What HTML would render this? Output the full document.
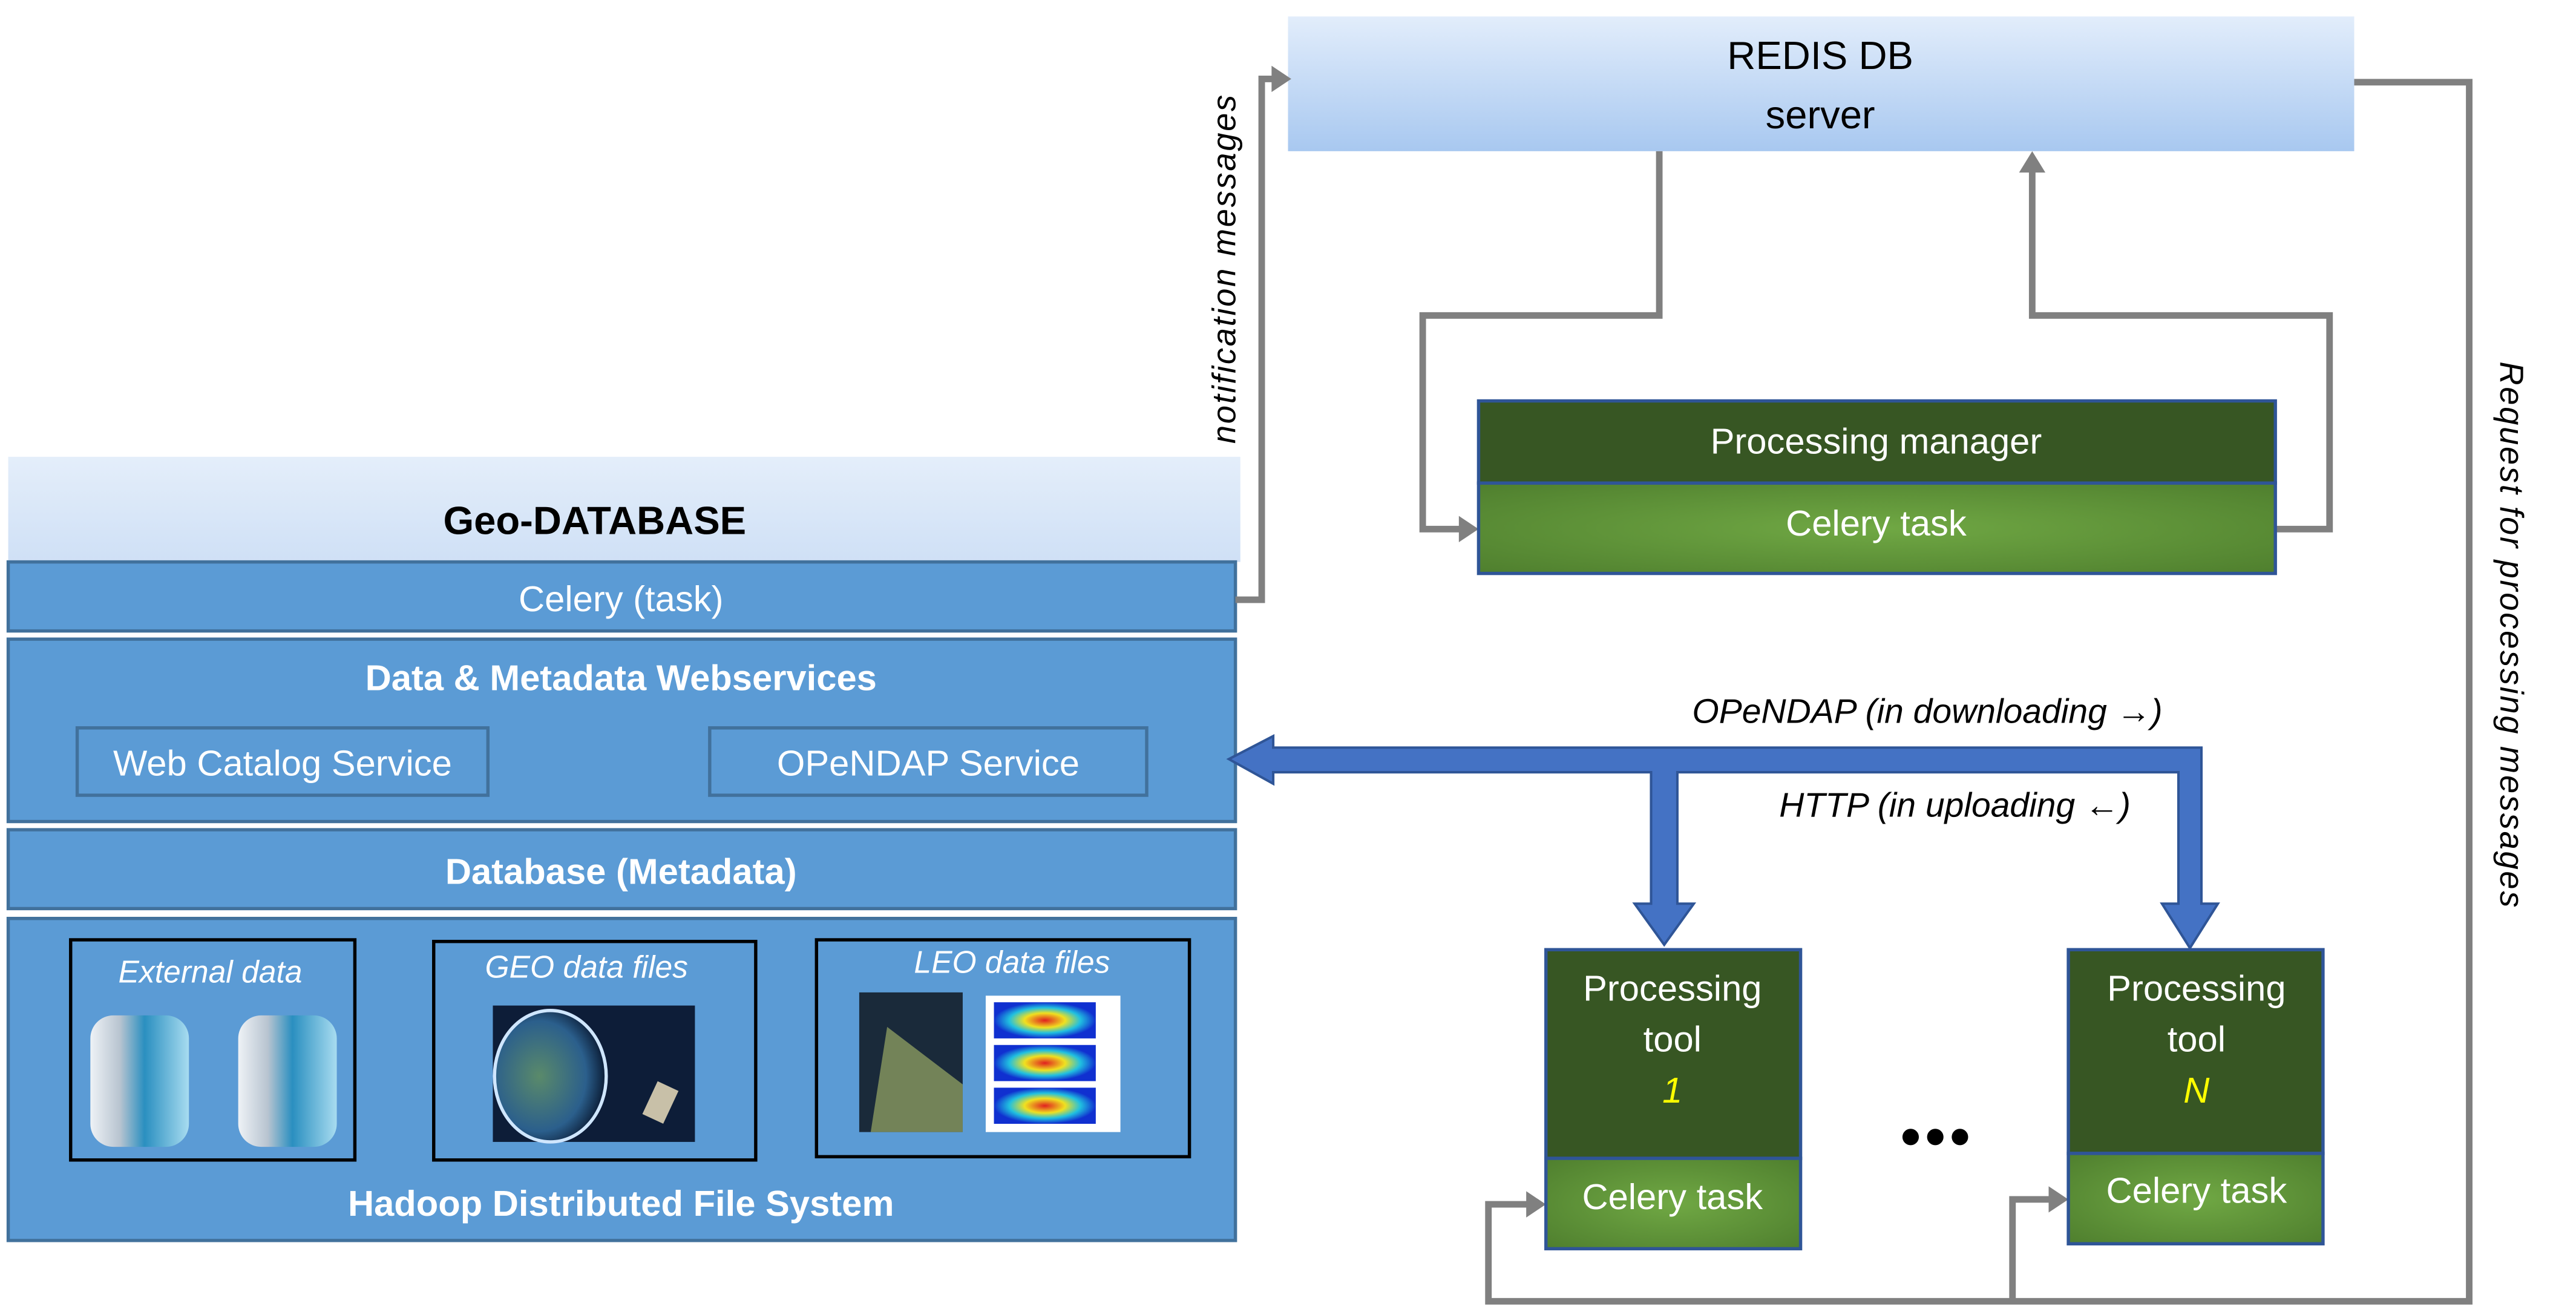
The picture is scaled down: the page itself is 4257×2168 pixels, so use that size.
<!DOCTYPE html>
<html><head><meta charset="utf-8"><style>
html,body{margin:0;padding:0;background:#fff;}
svg{display:block;}
text{font-family:"Liberation Sans Narrow","Liberation Sans",sans-serif;}
</style></head><body>
<svg width="4257" height="2168" viewBox="0 0 1568 798.5" xmlns="http://www.w3.org/2000/svg">
<defs>
<linearGradient id="redis" x1="0" y1="0" x2="0" y2="1"><stop offset="0" stop-color="#e2edfb"/><stop offset="1" stop-color="#a8c8f0"/></linearGradient>
<linearGradient id="geo" x1="0" y1="0" x2="0" y2="1"><stop offset="0" stop-color="#e4eefa"/><stop offset="1" stop-color="#cfe0f6"/></linearGradient>
<radialGradient id="grn" cx="0.5" cy="0.5" r="0.7"><stop offset="0" stop-color="#70a844"/><stop offset="1" stop-color="#4f7f2e"/></radialGradient>
<linearGradient id="cyl" x1="0" y1="0" x2="1" y2="0"><stop offset="0" stop-color="#eef2f6"/><stop offset="0.3" stop-color="#b8c4d0"/><stop offset="0.55" stop-color="#2a8fc0"/><stop offset="1" stop-color="#a8dcf0"/></linearGradient>
<radialGradient id="earth" cx="0.4" cy="0.5" r="0.6"><stop offset="0" stop-color="#5a8a6a"/><stop offset="0.7" stop-color="#2b5f8c"/><stop offset="1" stop-color="#0a1a33"/></radialGradient>
<radialGradient id="heat" cx="0.5" cy="0.5" r="0.5"><stop offset="0" stop-color="#e02020"/><stop offset="0.4" stop-color="#f0e020"/><stop offset="0.7" stop-color="#20c0e0"/><stop offset="1" stop-color="#1030d0"/></radialGradient>
</defs>

<rect x="5" y="278" width="750" height="64" fill="url(#geo)"/>
<text x="362" y="325" font-size="24" font-weight="bold" text-anchor="middle" fill="#000">Geo-DATABASE</text>
<rect x="5" y="342" width="747" height="42" fill="#5b9bd5" stroke="#41719c" stroke-width="2"/>
<text x="378" y="372" font-size="22" text-anchor="middle" fill="#fff">Celery (task)</text>
<rect x="5" y="389" width="747" height="111" fill="#5b9bd5" stroke="#41719c" stroke-width="2"/>
<text x="378" y="420" font-size="22" font-weight="bold" text-anchor="middle" fill="#fff">Data &amp; Metadata Webservices</text>
<rect x="47" y="443" width="250" height="41" fill="#5b9bd5" stroke="#41719c" stroke-width="2"/>
<text x="172" y="472" font-size="22" text-anchor="middle" fill="#fff">Web Catalog Service</text>
<rect x="432" y="443" width="266" height="41" fill="#5b9bd5" stroke="#41719c" stroke-width="2"/>
<text x="565" y="472" font-size="22" text-anchor="middle" fill="#fff">OPeNDAP Service</text>
<rect x="5" y="505" width="747" height="48" fill="#5b9bd5" stroke="#41719c" stroke-width="2"/>
<text x="378" y="538" font-size="22" font-weight="bold" text-anchor="middle" fill="#fff">Database (Metadata)</text>
<rect x="5" y="559" width="747" height="196" fill="#5b9bd5" stroke="#41719c" stroke-width="2"/>
<rect x="43" y="572" width="173" height="134" fill="none" stroke="#000" stroke-width="2"/>
<text x="128" y="598" font-size="19" font-style="italic" text-anchor="middle" fill="#fff">External data</text>
<rect x="55" y="618" width="60" height="80" rx="14" fill="url(#cyl)"/>
<rect x="145" y="618" width="60" height="80" rx="14" fill="url(#cyl)"/>
<rect x="264" y="573" width="196" height="133" fill="none" stroke="#000" stroke-width="2"/>
<text x="357" y="595" font-size="19" font-style="italic" text-anchor="middle" fill="#fff">GEO data files</text>
<rect x="300" y="612" width="123" height="83" fill="#0d1d38"/>
<ellipse cx="335" cy="655" rx="34" ry="40" fill="url(#earth)" stroke="#cfe6ff" stroke-width="2"/>
<rect x="395" y="660" width="14" height="22" fill="#c8c0a8" transform="rotate(25 402 671)"/>
<rect x="497" y="572" width="227" height="132" fill="none" stroke="#000" stroke-width="2"/>
<text x="616" y="592" font-size="19" font-style="italic" text-anchor="middle" fill="#fff">LEO data files</text>
<rect x="523" y="604" width="63" height="85" fill="#1a2a3a"/>
<polygon points="540,625 586,660 586,689 530,689" fill="#8a9a60" opacity="0.8"/>
<rect x="600" y="606" width="82" height="83" fill="#fff"/>
<rect x="605" y="610" width="62" height="22" fill="url(#heat)"/>
<rect x="605" y="636" width="62" height="22" fill="url(#heat)"/>
<rect x="605" y="662" width="62" height="22" fill="url(#heat)"/>
<text x="378" y="740" font-size="22" font-weight="bold" text-anchor="middle" fill="#fff">Hadoop Distributed File System</text>

<rect x="784" y="10" width="649" height="82" fill="url(#redis)"/>
<text x="1108" y="42" font-size="24" text-anchor="middle" fill="#000">REDIS DB</text>
<text x="1108" y="78" font-size="24" text-anchor="middle" fill="#000">server</text>

<g fill="none" stroke="#808080" stroke-width="4">
<polyline points="752,365 768,365 768,48 776,48"/>
<polyline points="1010,92 1010,192 866,192 866,322 890,322"/>
<polyline points="1385,322 1418,322 1418,192 1237,192 1237,104"/>
<polyline points="1433,50 1503,50 1503,792 906,792 906,733 930,733"/>
<polyline points="1225,792 1225,730 1249,730"/>
</g>
<g fill="#808080">
<polygon points="786,48 774,40 774,56"/>
<polygon points="900,322 888,314 888,330"/>
<polygon points="1237,92 1229,105 1245,105"/>
<polygon points="941,733 929,725 929,741"/>
<polygon points="1259,730 1247,722 1247,738"/>
</g>
<text transform="translate(752,270) rotate(-90)" font-size="20" font-style="italic" fill="#000" font-family="Liberation Sans" letter-spacing="1">notification  messages</text>
<text transform="translate(1522,220) rotate(90)" font-size="20" font-style="italic" fill="#000" font-family="Liberation Sans" letter-spacing="1">Request for processing messages</text>

<rect x="900" y="244" width="485" height="50" fill="#375623" stroke="#2f5597" stroke-width="2"/>
<text x="1142" y="276" font-size="22" text-anchor="middle" fill="#fff">Processing manager</text>
<rect x="900" y="294" width="485" height="55" fill="url(#grn)" stroke="#2f5597" stroke-width="2"/>
<text x="1142" y="326" font-size="22" text-anchor="middle" fill="#fff">Celery task</text>

<path d="M748,462 L775,448 L775,455 L1340,455 L1340,550 L1350,550 L1333,577 L1316,550 L1326,550 L1326,470 L1021,470 L1021,550 L1031,550 L1013,575 L995,550 L1005,550 L1005,470 L775,470 L775,477 Z" fill="#4472c4" stroke="#2f5597" stroke-width="1.5"/>
<text x="1030" y="440" font-size="21" font-style="italic" fill="#000">OPeNDAP (in downloading →)</text>
<text x="1083" y="497" font-size="21" font-style="italic" fill="#000">HTTP (in uploading ←)</text>

<rect x="941" y="578" width="155" height="127" fill="#375623" stroke="#2f5597" stroke-width="2"/>
<text x="1018" y="609" font-size="22" text-anchor="middle" fill="#fff">Processing</text>
<text x="1018" y="640" font-size="22" text-anchor="middle" fill="#fff">tool</text>
<text x="1018" y="671" font-size="22" font-style="italic" text-anchor="middle" fill="#ffff00">1</text>
<rect x="941" y="705" width="155" height="55" fill="url(#grn)" stroke="#2f5597" stroke-width="2"/>
<text x="1018" y="736" font-size="22" text-anchor="middle" fill="#fff">Celery task</text>

<rect x="1259" y="578" width="155" height="124" fill="#375623" stroke="#2f5597" stroke-width="2"/>
<text x="1337" y="609" font-size="22" text-anchor="middle" fill="#fff">Processing</text>
<text x="1337" y="640" font-size="22" text-anchor="middle" fill="#fff">tool</text>
<text x="1337" y="671" font-size="22" font-style="italic" text-anchor="middle" fill="#ffff00">N</text>
<rect x="1259" y="702" width="155" height="55" fill="url(#grn)" stroke="#2f5597" stroke-width="2"/>
<text x="1337" y="732" font-size="22" text-anchor="middle" fill="#fff">Celery task</text>

<g fill="#000"><circle cx="1163" cy="692" r="5"/><circle cx="1178" cy="692" r="5"/><circle cx="1193" cy="692" r="5"/></g>
</svg>
</body></html>
